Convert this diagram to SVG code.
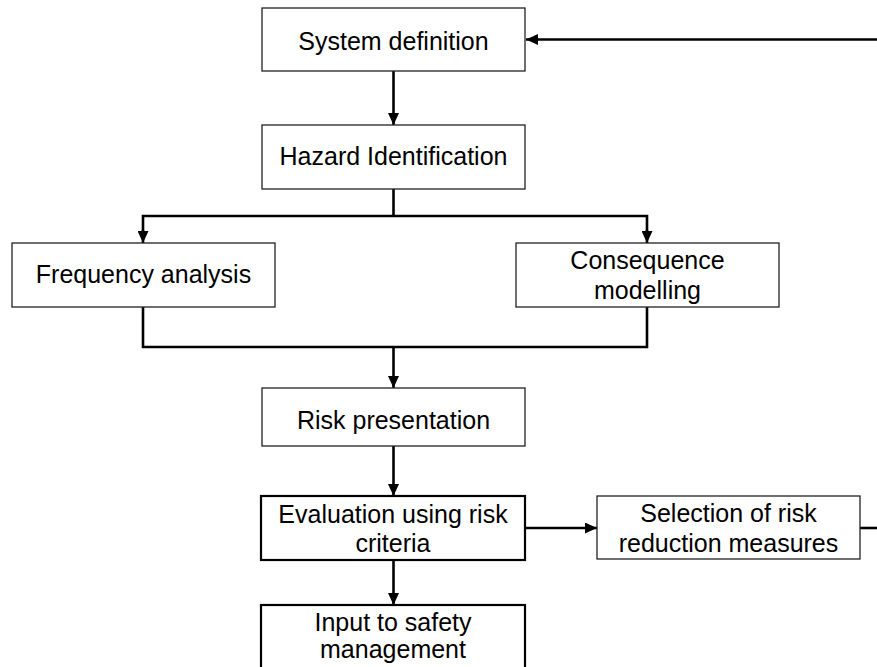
<svg xmlns="http://www.w3.org/2000/svg" width="877" height="667" viewBox="0 0 877 667">
  <style>
    .box { fill: #ffffff; stroke: #222222; stroke-width: 1.3; }
    .box.bold { stroke: #000000; stroke-width: 2.2; }
    .lbl { font-family: "Liberation Sans", Arial, sans-serif; font-size: 25px; fill: #000000; text-anchor: middle; }
    .wire { fill: none; stroke: #000000; stroke-width: 2.6; stroke-linejoin: miter; stroke-linecap: butt; }
  </style>
  <defs>
    <marker id="arrow" viewBox="0 0 12 11" refX="12" refY="5.5" markerWidth="12" markerHeight="11" markerUnits="userSpaceOnUse" orient="auto">
      <path d="M0,0 L12,5.5 L0,11 Z" fill="#000000"/>
    </marker>
  </defs>

  <rect width="877" height="667" fill="#ffffff"/>

  <g id="connectors">
    <!-- feedback line back into System definition -->
    <line class="wire" x1="877" y1="39.5" x2="526" y2="39.5" stroke-width="2" marker-end="url(#arrow)"/>
    <!-- System definition to Hazard Identification -->
    <line class="wire" x1="393.5" y1="71" x2="393.5" y2="125" marker-end="url(#arrow)"/>
    <!-- Hazard Identification splits to both analyses -->
    <line class="wire" x1="393.5" y1="189" x2="393.5" y2="216"/>
    <polyline class="wire" points="143,232 143,216 647,216 647,232"/>
    <line class="wire" x1="143" y1="230" x2="143" y2="243" marker-end="url(#arrow)"/>
    <line class="wire" x1="647" y1="230" x2="647" y2="243" marker-end="url(#arrow)"/>
    <!-- analyses merge into Risk presentation -->
    <polyline class="wire" points="143,307 143,347 647,347 647,307"/>
    <line class="wire" x1="393.5" y1="347" x2="393.5" y2="388" marker-end="url(#arrow)"/>
    <!-- Risk presentation to Evaluation -->
    <line class="wire" x1="393.5" y1="446" x2="393.5" y2="496" marker-end="url(#arrow)"/>
    <!-- Evaluation to Input to safety management -->
    <line class="wire" x1="393.5" y1="560" x2="393.5" y2="605" stroke-width="3" marker-end="url(#arrow)"/>
    <!-- Evaluation to Selection of risk reduction measures -->
    <line class="wire" x1="525" y1="528" x2="597" y2="528" stroke-width="3.4" marker-end="url(#arrow)"/>
    <!-- Selection loops back (leaves to the right) -->
    <line class="wire" x1="860" y1="528" x2="877" y2="528" stroke-width="3.4"/>
  </g>

  <g id="system-definition">
    <rect class="box" x="262" y="8" width="263" height="63"/>
    <text class="lbl" x="393.5" y="50">System definition</text>
  </g>

  <g id="hazard-identification">
    <rect class="box" x="262" y="125" width="263" height="64"/>
    <text class="lbl" x="393.5" y="165">Hazard Identification</text>
  </g>

  <g id="frequency-analysis">
    <rect class="box" x="12" y="243" width="263" height="64"/>
    <text class="lbl" x="143.5" y="283">Frequency analysis</text>
  </g>

  <g id="consequence-modelling">
    <rect class="box" x="516" y="243" width="263" height="64"/>
    <text class="lbl" x="647.5" y="269">Consequence</text>
    <text class="lbl" x="647.5" y="299">modelling</text>
  </g>

  <g id="risk-presentation">
    <rect class="box" x="262" y="388" width="263" height="58"/>
    <text class="lbl" x="393.5" y="429">Risk presentation</text>
  </g>

  <g id="evaluation">
    <rect class="box bold" x="261" y="496" width="264" height="64"/>
    <text class="lbl" x="393" y="523">Evaluation using risk</text>
    <text class="lbl" x="393" y="552">criteria</text>
  </g>

  <g id="risk-reduction">
    <rect class="box" x="597" y="496" width="263" height="63"/>
    <text class="lbl" x="728.5" y="522">Selection of risk</text>
    <text class="lbl" x="728.5" y="552">reduction measures</text>
  </g>

  <g id="safety-management">
    <rect class="box bold" x="261" y="605" width="264" height="70"/>
    <text class="lbl" x="393" y="631">Input to safety</text>
    <text class="lbl" x="393" y="658">management</text>
  </g>
</svg>
